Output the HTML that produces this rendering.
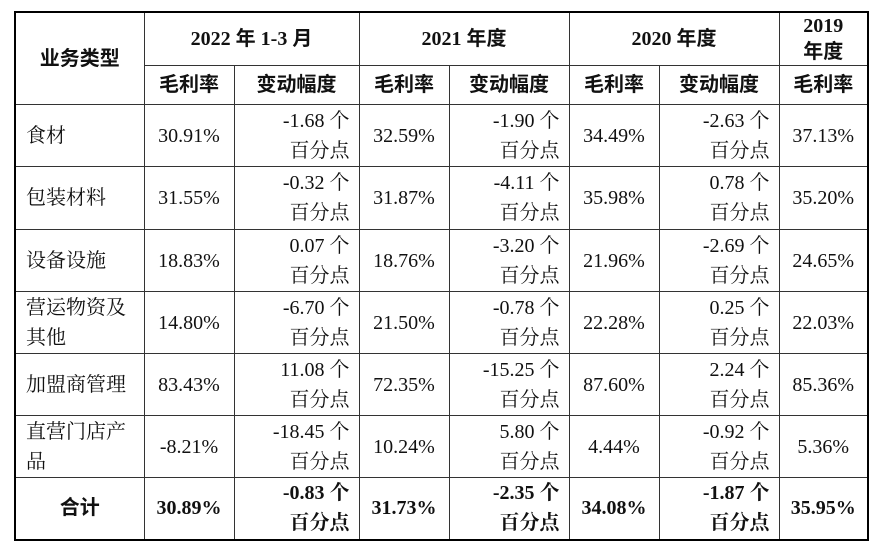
<!DOCTYPE html>
<html><head><meta charset="utf-8"><style>
body{margin:0;width:882px;height:558px;background:#fff;overflow:hidden}
table{position:absolute;left:14px;top:11px;border-collapse:collapse;table-layout:fixed;border:2.5px solid #000;font-family:"Liberation Serif","Noto Serif CJK SC",serif;font-size:20px;color:#111}
td{border:1px solid #333;padding:0;text-align:center;vertical-align:middle;line-height:30px}
.h{font-weight:bold;font-family:"Liberation Serif","Noto Sans CJK SC",serif}
.c{text-align:right;padding-right:9px}
.n{text-align:left;padding-left:10px}
.t td{font-weight:bold}
</style></head><body>
<table>
<colgroup><col style="width:129px"><col style="width:90px"><col style="width:125px"><col style="width:90px"><col style="width:120px"><col style="width:90px"><col style="width:120px"><col style="width:89px"></colgroup>
<tr style="height:52px">
<td class="h" rowspan="2">业务类型</td>
<td class="h" colspan="2">2022 年 1-3 月</td>
<td class="h" colspan="2">2021 年度</td>
<td class="h" colspan="2">2020 年度</td>
<td class="h" style="line-height:26px">2019<br>年度</td></tr>
<tr style="height:39px">
<td class="h">毛利率</td><td class="h">变动幅度</td>
<td class="h">毛利率</td><td class="h">变动幅度</td>
<td class="h">毛利率</td><td class="h">变动幅度</td>
<td class="h">毛利率</td></tr>
<tr style="height:62px"><td class="n">食材</td><td>30.91%</td><td class="c">-1.68 个<br>百分点</td><td>32.59%</td><td class="c">-1.90 个<br>百分点</td><td>34.49%</td><td class="c">-2.63 个<br>百分点</td><td>37.13%</td></tr>
<tr style="height:63px"><td class="n">包装材料</td><td>31.55%</td><td class="c">-0.32 个<br>百分点</td><td>31.87%</td><td class="c">-4.11 个<br>百分点</td><td>35.98%</td><td class="c">0.78 个<br>百分点</td><td>35.20%</td></tr>
<tr style="height:62px"><td class="n">设备设施</td><td>18.83%</td><td class="c">0.07 个<br>百分点</td><td>18.76%</td><td class="c">-3.20 个<br>百分点</td><td>21.96%</td><td class="c">-2.69 个<br>百分点</td><td>24.65%</td></tr>
<tr style="height:62px"><td class="n">营运物资及<br>其他</td><td>14.80%</td><td class="c">-6.70 个<br>百分点</td><td>21.50%</td><td class="c">-0.78 个<br>百分点</td><td>22.28%</td><td class="c">0.25 个<br>百分点</td><td>22.03%</td></tr>
<tr style="height:62px"><td class="n">加盟商管理</td><td>83.43%</td><td class="c">11.08 个<br>百分点</td><td>72.35%</td><td class="c">-15.25 个<br>百分点</td><td>87.60%</td><td class="c">2.24 个<br>百分点</td><td>85.36%</td></tr>
<tr style="height:62px"><td class="n">直营门店产<br>品</td><td>-8.21%</td><td class="c">-18.45 个<br>百分点</td><td>10.24%</td><td class="c">5.80 个<br>百分点</td><td>4.44%</td><td class="c">-0.92 个<br>百分点</td><td>5.36%</td></tr>
<tr class="t" style="height:62px"><td class="h">合计</td><td>30.89%</td><td class="c">-0.83 个<br>百分点</td><td>31.73%</td><td class="c">-2.35 个<br>百分点</td><td>34.08%</td><td class="c">-1.87 个<br>百分点</td><td>35.95%</td></tr>
</table>
</body></html>
